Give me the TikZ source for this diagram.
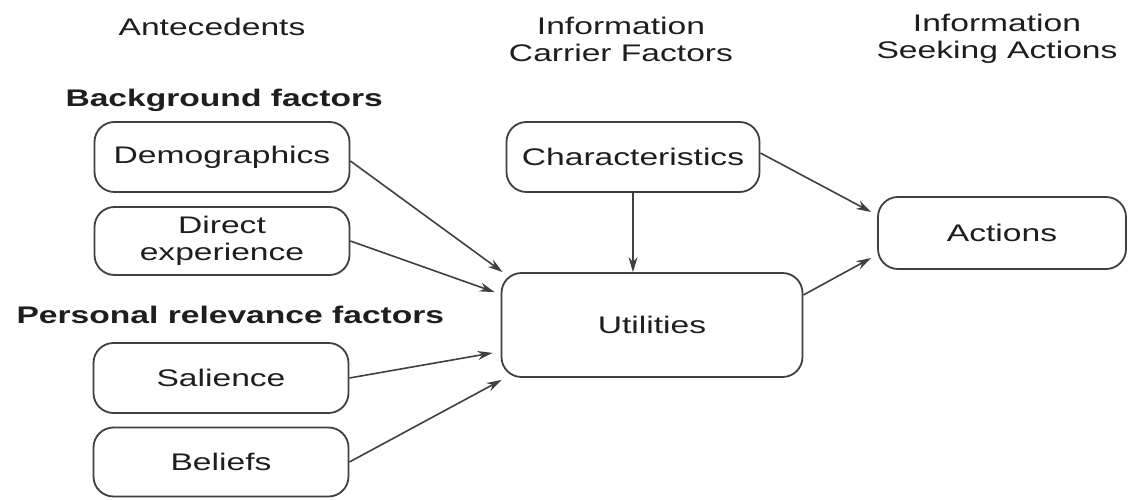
\documentclass[tikz,border=0pt]{standalone}
\usepackage{fontspec}
\setmainfont{Liberation Sans}[FakeStretch=1.40]
\usetikzlibrary{arrows.meta,calc}
\definecolor{ink}{HTML}{1E1E1E}
\definecolor{edge}{HTML}{404040}
\begin{document}
\begin{tikzpicture}[x=1pt,y=-1pt,
  every node/.style={font=\fontsize{24}{27}\selectfont, text=ink},
  box/.style={draw=edge, line width=1.8pt, rounded corners=20pt, align=center,
              inner sep=0pt, minimum width=#1},
  box/.default=255pt,
  head/.style={align=center},
  group/.style={font=\fontsize{24}{27}\selectfont\bfseries, anchor=west},
  link/.style={draw=edge, line width=1.6pt, -{Stealth[length=15pt,width=9pt]}}]
\useasboundingbox[fill=white] (0,0) rectangle (1129,500);

% column headings
\node[head] (hAnte) at (212,27) {Antecedents};
\node[head] (hCarr) at (621,39) {Information\\Carrier Factors};
\node[head] (hSeek) at (997,39) {Information\\Seeking Actions};

% group labels
\node[group] (gBack) at (62,100) {Background factors};
\node[group] (gPers) at (13,315) {Personal relevance factors};

% antecedent boxes
\node[box, minimum height=70pt] (dem) at (222,157) {Demographics};
\node[box, minimum height=68pt] (dir) at (222,241) {Direct\\experience};
\node[box, minimum height=70pt] (sal) at (221,378) {Salience};
\node[box, minimum height=69pt] (bel) at (221,462) {Beliefs};

% carrier and action boxes
\node[box=253pt, minimum height=70pt] (chr) at (633,157) {Characteristics};
\node[box=301pt, minimum height=104pt] (utl) at (652,325) {Utilities};
\node[box=248pt, minimum height=72pt] (act) at (1002,233) {Actions};

% connectors
\draw[link] ([yshift=-4pt]dem.east) -- ([xshift=2pt]utl.north west);
\draw[link] (dir.east) -- ([xshift=-6pt,yshift=-20pt]utl.north west);
\draw[link] (sal.east) -- ([xshift=-8pt,yshift=25pt]utl.south west);
\draw[link] (bel.east) -- ([xshift=1pt,yshift=-2pt]utl.south west);
\draw[link] (chr.south) -- (chr.south |- utl.north);
\draw[link] ([yshift=4pt]chr.east) -- ([xshift=-6pt,yshift=21pt]act.west);
\draw[link] ([yshift=30pt]utl.east) -- ([xshift=-6pt,yshift=-25pt]act.west);
\end{tikzpicture}
\end{document}
